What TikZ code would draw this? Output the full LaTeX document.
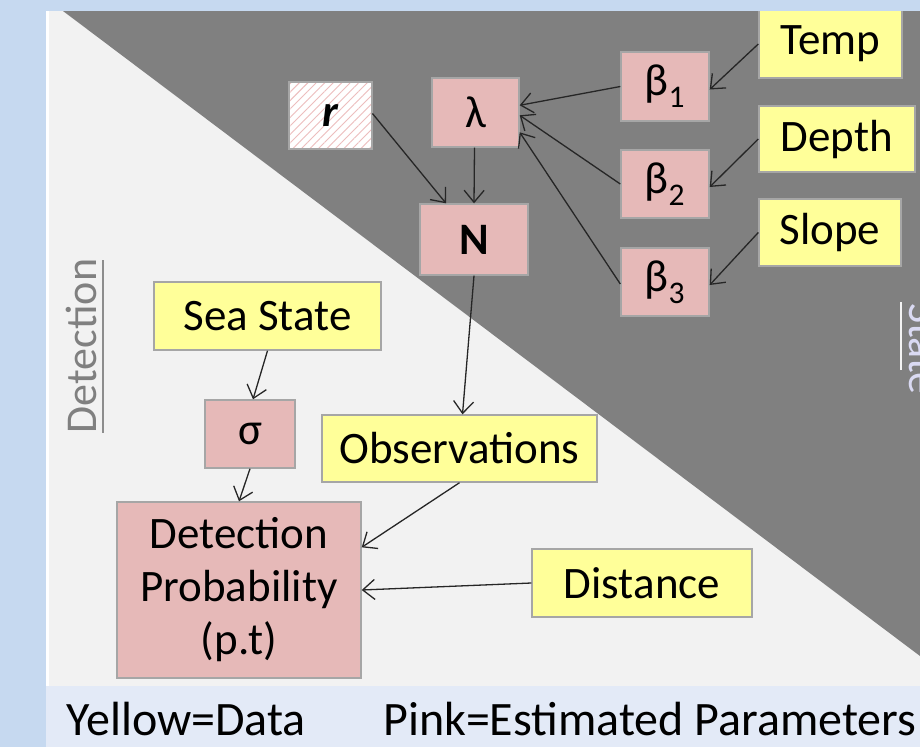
\documentclass[tikz,border=0pt]{standalone}
\usepackage{fontspec}
\setmainfont{Carlito}
\usetikzlibrary{arrows.meta,patterns.meta}
\definecolor{bgblue}{HTML}{C6D9F0}
\definecolor{legblue}{HTML}{E3EAF7}
\definecolor{panel}{HTML}{F2F2F2}
\definecolor{darkpanel}{HTML}{808080}
\definecolor{pinkbox}{HTML}{E6B9B8}
\definecolor{yellowbox}{HTML}{FFFF99}
\definecolor{boxedge}{HTML}{A6A6A6}
\definecolor{hatchpink}{HTML}{EDBDBD}
\begin{document}
\begin{tikzpicture}[x=1pt,y=-1pt,
  lbl/.style={font=\fontsize{45}{53}\selectfont, inner sep=0pt, draw=boxedge, line width=1.4pt, align=center},
  pinkb/.style={lbl, fill=pinkbox},
  yellowb/.style={lbl, fill=yellowbox},
  arr/.style={-{Straight Barb[length=12pt,width=20pt,line width=1.3pt]}, line width=1.3pt, black!85}
]
\useasboundingbox (0,0) rectangle (920,747);
\clip (0,0) rectangle (920,747);
% backgrounds
\fill[bgblue] (0,0) rectangle (920,747);
\fill[legblue] (46,686) rectangle (920,747);
\fill[white] (46,11) rectangle (920,686);
\fill[panel] (49,11) rectangle (920,686);
\fill[darkpanel] (63,11) -- (920,11) -- (920,656) -- cycle;
% side labels
\node[font=\fontsize{44}{50}\selectfont, text=darkpanel, rotate=90, anchor=base, inner sep=0pt] (detlbl) at (96,346) {Detection};
\draw[darkpanel!90, line width=2.5pt] (103,260) -- (103,433);
\node[font=\fontsize{44}{50}\selectfont, text=panel!90!blue, rotate=-90, anchor=base west, inner sep=0pt] (statelbl) at (909,303) {State};
\draw[panel!90, line width=2.5pt] (901,302) -- (901,370);
% nodes
\node[lbl, preaction={fill=white}, pattern={Lines[angle=45,distance=6pt,line width=0.9pt]}, pattern color=hatchpink, minimum width=83pt, minimum height=67pt] (r) at (330.5,115.5) {};
\node[font=\fontsize{45}{53}\selectfont] at (r.center) {\textbf{\textit{r}}};
\node[pinkb, minimum width=87pt, minimum height=69pt] (lam) at (475.5,112.5) {λ};
\node[pinkb, minimum width=108pt, minimum height=71pt] (N) at (474,239.5) {\textbf{N}};
\node[pinkb, minimum width=88pt, minimum height=69pt] (b1) at (665,86.5) {β\textsubscript{1}};
\node[pinkb, minimum width=88pt, minimum height=68pt] (b2) at (665,184) {β\textsubscript{2}};
\node[pinkb, minimum width=88pt, minimum height=68pt] (b3) at (665,282) {β\textsubscript{3}};
\node[yellowb, minimum width=143pt, minimum height=68pt] (temp) at (830.5,44) {Temp};
\node[yellowb, minimum width=156pt, minimum height=66pt] (depth) at (837,139) {Depth};
\node[yellowb, minimum width=142pt, minimum height=67pt] (slope) at (830,232.5) {Slope};
\node[yellowb, minimum width=227pt, minimum height=68pt] (sea) at (267.5,316) {Sea State};
\node[pinkb, minimum width=90pt, minimum height=68pt] (sig) at (250,434) {σ};
\node[yellowb, minimum width=275pt, minimum height=67pt] (obs) at (459.5,448.5) {Observations};
\node[pinkb, minimum width=244pt, minimum height=176pt] (dp) at (239,590) {Detection\\Probability\\(p.t)};
\node[yellowb, minimum width=220pt, minimum height=68pt] (dist) at (642,583) {Distance};
% blue strip above the panel hides the top edge of Temp
\fill[bgblue] (0,0) rectangle (920,11);
% legend
\node[font=\fontsize{48}{50}\selectfont, anchor=base west, inner sep=0pt] (leg1) at (66,735) {Yellow=Data};
\node[font=\fontsize{48}{50}\selectfont, anchor=base west, inner sep=0pt] (leg2) at (383,735) {Pink=Estimated Parameters};
% arrows
\draw[arr] ([yshift=2pt]r.east) -- ([xshift=-28pt]N.north);
\draw[arr] ([xshift=-1pt]lam.south) -- ([xshift=0pt]N.north);
\draw[arr] (b1.west) -- ([yshift=-28pt]lam.north east);
\draw[arr] ([yshift=0pt]b2.west) -- ([yshift=-38pt]lam.north east);
\draw[arr] ([yshift=-2pt]b3.west) -- ([yshift=-55pt]lam.north east);
\draw[arr] (temp.west) -- ([yshift=-3pt]b1.east);
\draw[arr] (depth.west) -- ([yshift=-3pt]b2.east);
\draw[arr] (slope.west) -- ([yshift=-3pt]b3.east);
\draw[arr] (N.south) -- ([xshift=3pt]obs.north);
\draw[arr] (sea.south) -- ([xshift=3pt]sig.north);
\draw[arr] (sig.south) -- ([xshift=0pt]dp.north);
\draw[arr] (obs.south) -- ([yshift=-46pt]dp.north east);
\draw[arr] (dist.west) -- (dp.east);
\end{tikzpicture}
\end{document}
